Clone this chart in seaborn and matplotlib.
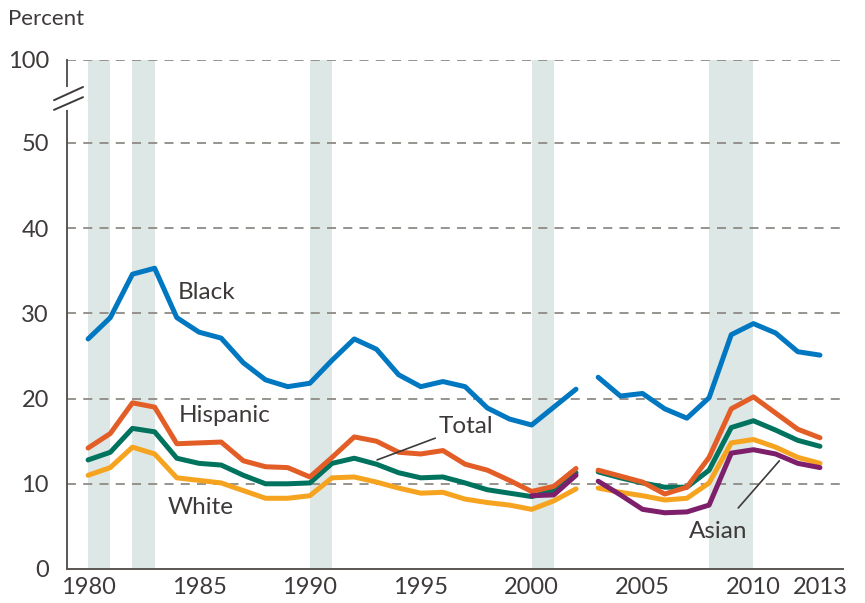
import numpy as np
import pandas as pd
import matplotlib.pyplot as plt
import seaborn as sns

sns.set_style("white")
plt.rcParams["font.family"] = ["Lato", "DejaVu Sans"]

years = list(range(1980, 2014))

black = [27.0, 29.5, 34.6, 35.3, 29.5, 27.8, 27.1, 24.2, 22.2, 21.4, 21.8, 24.5,
         27.0, 25.8, 22.8, 21.4, 22.0, 21.4, 18.9, 17.6, 16.9, 19.0, 21.1,
         22.5, 20.3, 20.6, 18.8, 17.7, 20.1, 27.5, 28.8, 27.7, 25.5, 25.1]
hispanic = [14.2, 15.9, 19.5, 19.0, 14.7, 14.8, 14.9, 12.7, 12.0, 11.9, 10.8, 13.1,
            15.5, 15.0, 13.7, 13.5, 13.9, 12.3, 11.6, 10.4, 9.1, 9.7, 11.8,
            11.6, 10.9, 10.2, 8.8, 9.6, 13.1, 18.8, 20.2, 18.3, 16.4, 15.4]
total = [12.8, 13.7, 16.5, 16.1, 13.0, 12.4, 12.2, 11.0, 10.0, 10.0, 10.1, 12.4,
         13.0, 12.3, 11.3, 10.7, 10.8, 10.1, 9.3, 8.9, 8.5, 9.2, 11.3,
         11.4, 10.7, 10.1, 9.6, 9.6, 11.6, 16.6, 17.4, 16.3, 15.1, 14.4]
white = [11.0, 11.9, 14.3, 13.5, 10.7, 10.4, 10.1, 9.2, 8.3, 8.3, 8.6, 10.7,
         10.8, 10.2, 9.5, 8.9, 9.0, 8.2, 7.8, 7.5, 7.0, 8.0, 9.4,
         9.5, 9.0, 8.6, 8.1, 8.3, 10.1, 14.8, 15.2, 14.3, 13.1, 12.4]
asian_years = list(range(2000, 2014))
asian = [8.6, 8.7, 11.0, 10.3, 8.7, 7.0, 6.6, 6.7, 7.5, 13.6, 14.0, 13.5, 12.4, 11.9]

recessions = [(1980, 1981), (1982, 1983), (1990, 1991), (2000, 2001), (2008, 2010)]
y_ticks = [0, 10, 20, 30, 40, 50]
top_pos = 59.74  # where "100" sits above the axis break
x_labels = [1980, 1985, 1990, 1995, 2000, 2005, 2010, 2013]

colors = {"White": "#f6a31f", "Total": "#00735f", "Hispanic": "#e35d27",
          "Black": "#0077c1", "Asian": "#7d1f6b"}
txt = "#3e3a39"

# long table; a break between 2002 and 2003
rows = []
for name, xs, vals in [("White", years, white), ("Total", years, total),
                       ("Hispanic", years, hispanic), ("Black", years, black),
                       ("Asian", asian_years, asian)]:
    for x, v in zip(xs, vals):
        rows.append({"year": x, "pct": v, "group": name, "seg": 0 if x <= 2002 else 1})
df = pd.DataFrame(rows)

fig = plt.figure(figsize=(8.65, 6.03), dpi=100)
ax = fig.add_axes([0.0775, 0.0564, 0.8971, 0.8441])

for a, b in recessions:
    ax.axvspan(a, b, ymin=0, ymax=1, color="#dde7e6", lw=0, zorder=0)

for y in y_ticks[1:] + [top_pos]:
    ax.axhline(y, color="#8f8a86", lw=1.3, ls=(0, (5, 4)), zorder=1)

sns.lineplot(data=df, x="year", y="pct", hue="group", units="seg", estimator=None,
             palette=colors, lw=3.6, legend=False, ax=ax, zorder=3)

ax.set_xlim(1979.05, 2014.04)
ax.set_ylim(0, top_pos)
ax.set_yticks(y_ticks + [top_pos])
ax.set_yticklabels([str(v) for v in y_ticks] + ["100"])
ax.set_xticks(x_labels)
ax.set_xticks(years, minor=True)
ax.set_xlabel("")
ax.set_ylabel("")

for s in ["top", "right"]:
    ax.spines[s].set_visible(False)
for s in ["left", "bottom"]:
    ax.spines[s].set_color("#5a5653")
    ax.spines[s].set_linewidth(1.4)

ax.tick_params(axis="y", length=0, pad=13, labelsize=17, labelcolor=txt)
ax.tick_params(axis="x", which="both", direction="in", length=8, width=1.1,
               color="#5a5653", pad=6, labelsize=17, labelcolor=txt)

# axis break: white gap on the spine, then two slashes
ax.plot([0, 0], [0.905, 0.943], transform=ax.transAxes, color="white", lw=3,
        clip_on=False, zorder=4)
for y0, y1 in [(0.921, 0.947), (0.902, 0.927)]:
    ax.plot([-0.0168, 0.0206], [y0, y1], transform=ax.transAxes, color="#3e3a39",
            lw=1.4, clip_on=False, zorder=5)

fs = 17.5
ax.text(1984.05, 32.5, "Black", fontsize=fs, color=txt, va="center")
ax.text(1984.1, 18.0, "Hispanic", fontsize=fs, color=txt, va="center")
ax.text(1983.6, 7.2, "White", fontsize=fs, color=txt, va="center")
ax.annotate("Total", xy=(1993.03, 12.8), xytext=(1995.8, 16.7), fontsize=fs,
            color=txt, va="center", ha="left",
            arrowprops=dict(arrowstyle="-", color="#3e3a39", lw=1.2, shrinkA=0, shrinkB=0))
ax.annotate("Asian", xy=(2011.17, 12.7), xytext=(2008.4, 4.44), fontsize=fs,
            color=txt, va="center", ha="center",
            arrowprops=dict(arrowstyle="-", color="#3e3a39", lw=1.2, shrinkA=9, shrinkB=0))

fig.text(8 / 865, 1 - 19 / 603, "Percent", fontsize=16, color=txt, va="center", ha="left")

fig.savefig("out.png", dpi=100)
